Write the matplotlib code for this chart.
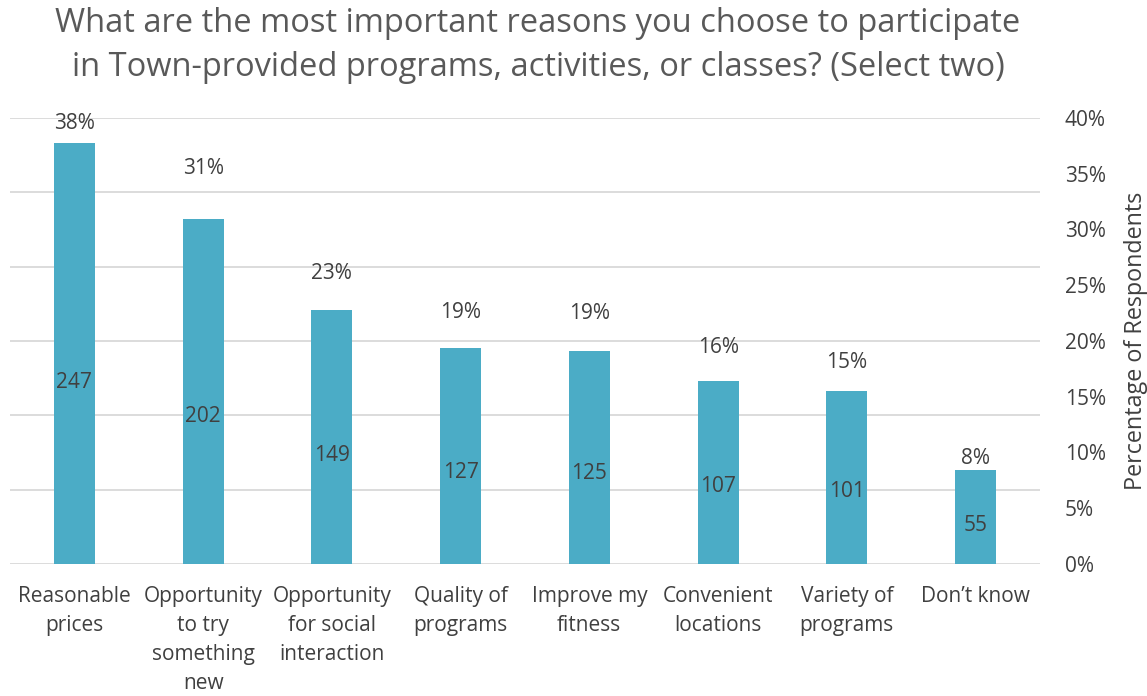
import matplotlib
matplotlib.use("Agg")
import matplotlib.pyplot as plt
from matplotlib.ticker import FixedLocator

categories = ["Reasonable\nprices", "Opportunity\nto try\nsomething\nnew",
              "Opportunity\nfor social\ninteraction", "Quality of\nprograms",
              "Improve my\nfitness", "Convenient\nlocations", "Variety of\nprograms",
              "Don\u2019t know"]
counts = [247, 202, 149, 127, 125, 107, 101, 55]
percents = [37.8, 30.9, 22.8, 19.4, 19.1, 16.4, 15.5, 8.4]
pct_labels = ["38%", "31%", "23%", "19%", "19%", "16%", "15%", "8%"]
right_ticks = [0, 5, 10, 15, 20, 25, 30, 35, 40]
title_lines = ["What are the most important reasons you choose to participate",
               "in Town-provided programs, activities, or classes? (Select two)"]

# label placement offsets (pixels above the percent bar top)
pct_label_offsets = [22, 53, 39, 38, 40, 36, 31, 14]

FONT = "Open Sans"
TXT = "#404040"
BAR = "#4BACC6"
GRID = "#D9D9D9"

plt.rcParams['font.family'] = [FONT, 'DejaVu Sans']

fig = plt.figure(figsize=(11.47, 6.96), dpi=100)
ax = fig.add_axes([0.0087, 0.1897, 0.8980, 0.6408])
ax2 = ax.twinx()

x = list(range(len(categories)))
w = 0.32

ax.bar(x, counts, width=w, color=BAR, zorder=2)
ax.set_ylim(0, 300)
ax.yaxis.set_major_locator(FixedLocator([0, 50, 100, 150, 200, 250, 300]))
ax.grid(axis='y', color=GRID, linewidth=1.3, zorder=0)
ax.set_axisbelow(True)
ax.tick_params(axis='y', left=False, labelleft=False)
ax.set_xlim(-0.5, len(categories) - 0.5)
ax.set_xticks(x)
ax.set_xticklabels(categories, fontsize=15, color=TXT, linespacing=1.5)
ax.tick_params(axis='x', length=0, pad=16)
for s in ax.spines.values():
    s.set_visible(False)

bars2 = ax2.bar(x, percents, width=w, color=BAR, zorder=2)
ax2.set_ylim(0, 40)
ax2.yaxis.set_major_locator(FixedLocator(right_ticks))
ax2.set_yticklabels([f"{t}%" for t in right_ticks], fontsize=15, color=TXT)
ax2.tick_params(axis='y', length=0, pad=18)
ax2.set_ylabel("Percentage of Respondents", fontsize=16.8, color=TXT, labelpad=13)
for s in ax2.spines.values():
    s.set_visible(False)

for i, (p, lab, off) in enumerate(zip(percents, pct_labels, pct_label_offsets)):
    ax2.annotate(lab, (i, p), xytext=(0, off), textcoords='offset pixels',
                 ha='center', va='center_baseline', fontsize=15, color=TXT)

for i, c in enumerate(counts):
    ax2.text(i, c / 2, str(c), transform=ax.transData, ha='center',
             va='center_baseline', fontsize=15, color=TXT, zorder=5)

fig.text(0.469, 1 - 24 / 696, title_lines[0], ha='center', va='center',
         fontsize=23.5, color="#595959")
fig.text(0.469, 1 - 67 / 696, title_lines[1], ha='center', va='center',
         fontsize=23.5, color="#595959")

fig.savefig("out.png", dpi=100, facecolor="white")
